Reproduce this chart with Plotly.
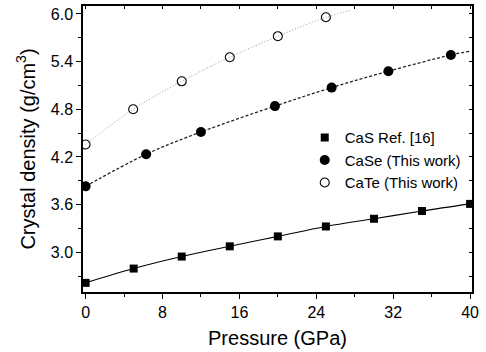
import plotly.graph_objects as go

# Data
pressure_cas = [0, 5, 10, 15, 20, 25, 30, 35, 40]
density_cas = [2.615, 2.795, 2.946, 3.075, 3.200, 3.325, 3.422, 3.520, 3.609]

pressure_case = [0, 6.3, 12.0, 19.7, 25.6, 31.5, 38.0]
density_case = [3.830, 4.234, 4.514, 4.840, 5.073, 5.279, 5.484]
# dashed guide line extends to the right edge
pressure_case_line = [0, 6.3, 12.0, 19.7, 25.6, 31.5, 38.0, 40.0]
density_case_line = [3.830, 4.234, 4.514, 4.840, 5.073, 5.279, 5.484, 5.530]

pressure_cate = [0, 4.95, 10.0, 15.0, 20.0, 25.0]
density_cate = [4.356, 4.800, 5.152, 5.455, 5.720, 5.958]
pressure_cate_line = [0, 4.95, 10.0, 15.0, 20.0, 25.0, 27.6]
density_cate_line = [4.356, 4.800, 5.152, 5.455, 5.720, 5.958, 6.045]

labels = ["CaS Ref. [16]", "CaSe (This work)", "CaTe (This work)"]

x_ticks = [0, 8, 16, 24, 32, 40]
y_ticks = [3.0, 3.6, 4.2, 4.8, 5.4, 6.0]

FONT = "Liberation Sans, Arial, sans-serif"

fig = go.Figure()

# fit lines (not in legend)
fig.add_trace(go.Scatter(x=pressure_cas, y=density_cas, mode="lines",
                         line=dict(color="black", width=1.1, shape="spline"),
                         showlegend=False, hoverinfo="skip"))
fig.add_trace(go.Scatter(x=pressure_case_line, y=density_case_line, mode="lines",
                         line=dict(color="#222222", width=1.3, shape="spline", dash="3px,2px"),
                         showlegend=False, hoverinfo="skip"))
fig.add_trace(go.Scatter(x=pressure_cate_line, y=density_cate_line, mode="lines",
                         line=dict(color="#999999", width=1.0, shape="spline", dash="1px,2px"),
                         showlegend=False, hoverinfo="skip"))

# markers
fig.add_trace(go.Scatter(x=pressure_cas, y=density_cas, mode="markers", name=labels[0],
                         marker=dict(symbol="square", size=8, color="black")))
fig.add_trace(go.Scatter(x=pressure_case, y=density_case, mode="markers", name=labels[1],
                         marker=dict(symbol="circle", size=10, color="black")))
fig.add_trace(go.Scatter(x=pressure_cate, y=density_cate, mode="markers", name=labels[2],
                         marker=dict(symbol="circle-open", size=9, color="black",
                                     line=dict(width=1.1, color="black"))))

# invisible trace to hold the mirror axes
fig.add_trace(go.Scatter(x=[0], y=[3.0], xaxis="x2", yaxis="y2", mode="markers",
                         marker=dict(opacity=0), showlegend=False, hoverinfo="skip"))

xr = [-0.27, 40.2]
yr = [2.5, 6.1]

fig.update_layout(
    width=486, height=352,
    margin=dict(l=83, r=14, t=6, b=60),
    paper_bgcolor="white", plot_bgcolor="white",
    font=dict(family=FONT, color="black", size=16),
    xaxis=dict(range=xr, tickmode="array", tickvals=x_ticks,
               ticktext=[str(v) for v in x_ticks],
               ticks="outside", ticklen=5, tickwidth=1.2, tickcolor="black",
               minor=dict(dtick=4, tick0=0, ticks="outside", ticklen=3, tickwidth=1.2, tickcolor="black"),
               showline=True, linecolor="black", linewidth=1.5, showgrid=False, zeroline=False,
               tickfont=dict(size=16),
               title=dict(text="Pressure (GPa)", font=dict(size=20), standoff=11)),
    yaxis=dict(range=yr, tickmode="array", tickvals=y_ticks,
               ticktext=[f"{v:.1f}" for v in y_ticks],
               ticks="outside", ticklen=5, tickwidth=1.2, tickcolor="black",
               minor=dict(dtick=0.3, tick0=3.0, ticks="outside", ticklen=3, tickwidth=1.2, tickcolor="black"),
               showline=True, linecolor="black", linewidth=1.5, showgrid=False, zeroline=False,
               tickfont=dict(size=16),
               title=dict(text="Crystal density (g/cm<sup>3</sup>)", font=dict(size=20), standoff=10)),
    xaxis2=dict(range=xr, overlaying="x", side="top", dtick=4, tick0=0,
                ticks="inside", ticklen=3, tickwidth=1, tickcolor="black",
                showticklabels=False, showline=True, linecolor="black", linewidth=1.5,
                showgrid=False, zeroline=False),
    yaxis2=dict(range=yr, overlaying="y", side="right", dtick=0.3, tick0=3.0,
                ticks="inside", ticklen=3, tickwidth=1, tickcolor="black",
                showticklabels=False, showline=True, linecolor="black", linewidth=1.5,
                showgrid=False, zeroline=False),
    legend=dict(x=0.57, y=0.597, xanchor="left", yanchor="top",
                bgcolor="rgba(0,0,0,0)", font=dict(size=15), itemwidth=30,
                tracegroupgap=0),
    showlegend=True,
)

fig.write_html("out.html")
